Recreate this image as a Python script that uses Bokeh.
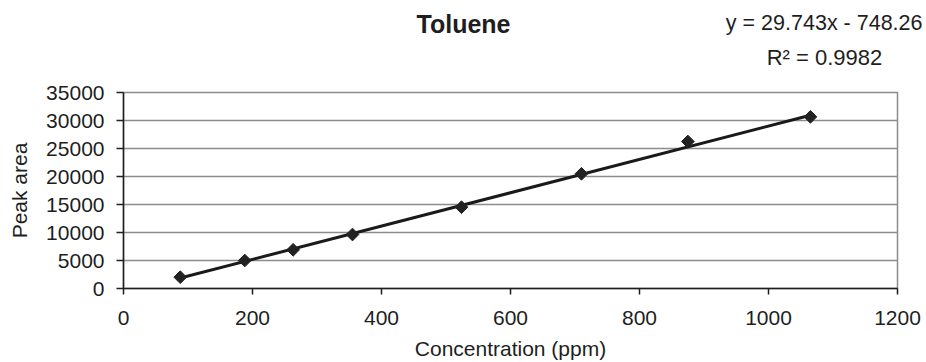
import math
from bokeh.plotting import figure
from bokeh.models import Range1d, FixedTicker, Label
from bokeh.layouts import column, row
from bokeh.embed import file_html
from bokeh.resources import INLINE

# data
concentration = [88, 188, 263, 355, 524, 710, 875, 1065]
peak_area = [2020, 5000, 6910, 9640, 14520, 20480, 26250, 30650]
slope = 29.743
intercept = -748.26
r_squared = 0.9982
title_text = "Toluene"
x_ticks = [0, 200, 400, 600, 800, 1000, 1200]
y_ticks = [0, 5000, 10000, 15000, 20000, 25000, 30000, 35000]

FONT = "Liberation Sans"
TXT = "#1e1e1e"
TOP_H = 80

# header strip holding title and trendline equation (pixel-like coordinates)
head = figure(width=926, height=TOP_H, output_backend="svg", toolbar_location=None,
              x_range=Range1d(0, 926), y_range=Range1d(TOP_H, 0),
              min_border=0, min_border_left=0, min_border_right=0,
              min_border_top=0, min_border_bottom=0, title=None)
head.axis.visible = False
head.grid.visible = False
head.outline_line_color = None
head.background_fill_color = "white"
head.border_fill_color = "white"
head.add_layout(Label(x=463, y=23.5, text=title_text, text_font=FONT,
                      text_font_size="25px", text_font_style="bold", text_color=TXT,
                      text_align="center", text_baseline="alphabetic"))
head.add_layout(Label(x=922, y=22.5, text=f"y = {slope}x - {abs(intercept)}",
                      text_font=FONT, text_font_size="21.5px", text_color=TXT,
                      text_align="right", text_baseline="alphabetic"))
head.add_layout(Label(x=824, y=56.5, text=f"R\u00b2 = {r_squared}",
                      text_font=FONT, text_font_size="22px", text_color=TXT,
                      text_align="center", text_baseline="alphabetic"))

p = figure(width=926, height=362 - TOP_H, output_backend="svg", toolbar_location=None,
           x_range=Range1d(0, 1200), y_range=Range1d(0, 35000),
           min_border_left=123, min_border_right=29, min_border_top=92 - TOP_H,
           min_border_bottom=74)
p.background_fill_color = "white"
p.border_fill_color = "white"
p.outline_line_color = "#8c8c8c"
p.outline_line_width = 1.5

p.xgrid.visible = False
p.ygrid.grid_line_color = "#8c8c8c"
p.ygrid.grid_line_width = 1.5
p.xaxis.ticker = FixedTicker(ticks=x_ticks)
p.yaxis.ticker = FixedTicker(ticks=y_ticks)

for ax in (p.xaxis[0], p.yaxis[0]):
    ax.axis_line_color = "#1e1e1e"
    ax.axis_line_width = 1.5
    ax.major_tick_line_color = "#1e1e1e"
    ax.major_tick_line_width = 1.5
    ax.major_tick_in = 0
    ax.minor_tick_line_color = None
    ax.major_label_text_font = FONT
    ax.major_label_text_font_size = "21px"
    ax.major_label_text_color = TXT
    ax.axis_label_text_font = FONT
    ax.axis_label_text_font_size = "21px"
    ax.axis_label_text_font_style = "normal"
    ax.axis_label_text_color = TXT

p.xaxis.major_tick_out = 6
p.xaxis.major_label_standoff = 16
p.xaxis.axis_label = "Concentration (ppm)"
p.xaxis.axis_label_standoff = 9
p.yaxis.major_tick_out = 7
p.yaxis.major_label_standoff = 12
p.yaxis.axis_label = "Peak area"
p.yaxis.axis_label_standoff = 12

# trendline over data extent
x_line = [min(concentration), max(concentration)]
y_line = [slope * x + intercept for x in x_line]
p.line(x_line, y_line, line_color="#1a1a1a", line_width=3)
p.scatter(concentration, peak_area, marker="square", size=9, angle=math.pi / 4,
          fill_color="#222222", line_color="#222222")

layout = column(row(head), p, spacing=0)
open("out.html", "w").write(file_html(layout, INLINE))
